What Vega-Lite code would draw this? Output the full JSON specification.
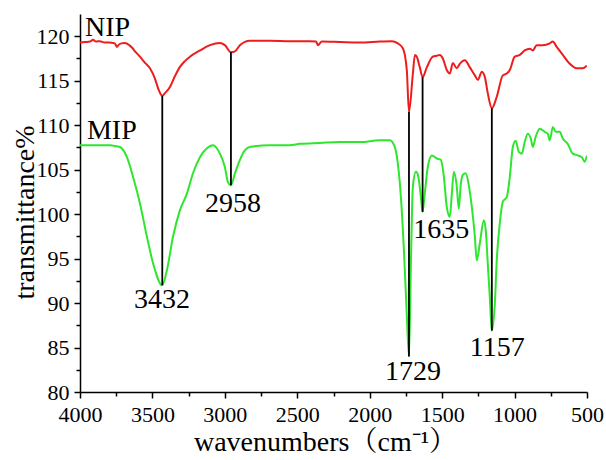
{
  "$schema": "https://vega.github.io/schema/vega-lite/v6.json",
  "width": 507,
  "height": 378,
  "autosize": "none",
  "padding": {"left": 80, "top": 14, "right": 19, "bottom": 68},
  "background": "white",
  "config": {
    "view": {"stroke": null},
    "font": "Liberation Serif",
    "axis": {
      "grid": false,
      "domainColor": "black",
      "domainWidth": 1.5,
      "tickColor": "black",
      "tickWidth": 1.5,
      "labelFont": "Liberation Serif",
      "labelColor": "black",
      "titleFont": "Liberation Serif",
      "titleColor": "black",
      "titleFontWeight": "normal"
    }
  },
  "datasets": {
    "spectra": [
      {"s": "NIP", "wn": 4000, "t": 119.3},
      {"s": "NIP", "wn": 3965, "t": 119.35},
      {"s": "NIP", "wn": 3931, "t": 119.4},
      {"s": "NIP", "wn": 3910, "t": 119.6},
      {"s": "NIP", "wn": 3890, "t": 119.4},
      {"s": "NIP", "wn": 3862, "t": 119.45},
      {"s": "NIP", "wn": 3830, "t": 119.3},
      {"s": "NIP", "wn": 3800, "t": 119.3},
      {"s": "NIP", "wn": 3760, "t": 119.2},
      {"s": "NIP", "wn": 3745, "t": 118.8},
      {"s": "NIP", "wn": 3735, "t": 119.0},
      {"s": "NIP", "wn": 3715, "t": 119.2},
      {"s": "NIP", "wn": 3690, "t": 119.25},
      {"s": "NIP", "wn": 3660, "t": 119.0},
      {"s": "NIP", "wn": 3640, "t": 118.7},
      {"s": "NIP", "wn": 3620, "t": 118.3},
      {"s": "NIP", "wn": 3586, "t": 117.7},
      {"s": "NIP", "wn": 3551, "t": 117.0},
      {"s": "NIP", "wn": 3517, "t": 116.4},
      {"s": "NIP", "wn": 3482, "t": 115.2},
      {"s": "NIP", "wn": 3462, "t": 114.2},
      {"s": "NIP", "wn": 3432, "t": 113.3},
      {"s": "NIP", "wn": 3414, "t": 113.6},
      {"s": "NIP", "wn": 3379, "t": 114.3},
      {"s": "NIP", "wn": 3345, "t": 115.5},
      {"s": "NIP", "wn": 3310, "t": 116.55},
      {"s": "NIP", "wn": 3276, "t": 117.2},
      {"s": "NIP", "wn": 3241, "t": 117.7},
      {"s": "NIP", "wn": 3172, "t": 118.4},
      {"s": "NIP", "wn": 3103, "t": 119.0},
      {"s": "NIP", "wn": 3034, "t": 119.25},
      {"s": "NIP", "wn": 3000, "t": 119.0},
      {"s": "NIP", "wn": 2958, "t": 118.2},
      {"s": "NIP", "wn": 2930, "t": 118.3},
      {"s": "NIP", "wn": 2896, "t": 119.0},
      {"s": "NIP", "wn": 2827, "t": 119.5},
      {"s": "NIP", "wn": 2689, "t": 119.5},
      {"s": "NIP", "wn": 2551, "t": 119.45},
      {"s": "NIP", "wn": 2413, "t": 119.45},
      {"s": "NIP", "wn": 2370, "t": 119.4},
      {"s": "NIP", "wn": 2358, "t": 119.0},
      {"s": "NIP", "wn": 2330, "t": 119.4},
      {"s": "NIP", "wn": 2206, "t": 119.35},
      {"s": "NIP", "wn": 2068, "t": 119.3},
      {"s": "NIP", "wn": 1930, "t": 119.4},
      {"s": "NIP", "wn": 1847, "t": 119.45},
      {"s": "NIP", "wn": 1806, "t": 119.2},
      {"s": "NIP", "wn": 1771, "t": 118.65},
      {"s": "NIP", "wn": 1744, "t": 116.2},
      {"s": "NIP", "wn": 1729, "t": 111.5},
      {"s": "NIP", "wn": 1702, "t": 115.8},
      {"s": "NIP", "wn": 1688, "t": 117.9},
      {"s": "NIP", "wn": 1675, "t": 117.7},
      {"s": "NIP", "wn": 1654, "t": 116.5},
      {"s": "NIP", "wn": 1635, "t": 115.4},
      {"s": "NIP", "wn": 1606, "t": 116.5},
      {"s": "NIP", "wn": 1564, "t": 117.7},
      {"s": "NIP", "wn": 1537, "t": 117.8},
      {"s": "NIP", "wn": 1516, "t": 117.9},
      {"s": "NIP", "wn": 1495, "t": 117.5},
      {"s": "NIP", "wn": 1468, "t": 116.2},
      {"s": "NIP", "wn": 1447, "t": 115.8},
      {"s": "NIP", "wn": 1426, "t": 117.0},
      {"s": "NIP", "wn": 1399, "t": 116.4},
      {"s": "NIP", "wn": 1378, "t": 116.9},
      {"s": "NIP", "wn": 1343, "t": 117.3},
      {"s": "NIP", "wn": 1309, "t": 116.5},
      {"s": "NIP", "wn": 1274, "t": 115.6},
      {"s": "NIP", "wn": 1254, "t": 115.1},
      {"s": "NIP", "wn": 1226, "t": 116.0},
      {"s": "NIP", "wn": 1205, "t": 115.4},
      {"s": "NIP", "wn": 1185, "t": 113.6},
      {"s": "NIP", "wn": 1157, "t": 111.9},
      {"s": "NIP", "wn": 1123, "t": 113.2},
      {"s": "NIP", "wn": 1081, "t": 115.6},
      {"s": "NIP", "wn": 1054, "t": 115.8},
      {"s": "NIP", "wn": 1033, "t": 116.2},
      {"s": "NIP", "wn": 999, "t": 117.7},
      {"s": "NIP", "wn": 964, "t": 117.9},
      {"s": "NIP", "wn": 930, "t": 118.4},
      {"s": "NIP", "wn": 895, "t": 118.6},
      {"s": "NIP", "wn": 874, "t": 118.4},
      {"s": "NIP", "wn": 847, "t": 119.0},
      {"s": "NIP", "wn": 805, "t": 119.0},
      {"s": "NIP", "wn": 757, "t": 119.2},
      {"s": "NIP", "wn": 736, "t": 119.4},
      {"s": "NIP", "wn": 709, "t": 118.8},
      {"s": "NIP", "wn": 667, "t": 117.9},
      {"s": "NIP", "wn": 619, "t": 116.9},
      {"s": "NIP", "wn": 571, "t": 116.4},
      {"s": "NIP", "wn": 529, "t": 116.4},
      {"s": "NIP", "wn": 502, "t": 116.7},
      {"s": "MIP", "wn": 4000, "t": 107.75},
      {"s": "MIP", "wn": 3931, "t": 107.75},
      {"s": "MIP", "wn": 3793, "t": 107.75},
      {"s": "MIP", "wn": 3772, "t": 107.7},
      {"s": "MIP", "wn": 3724, "t": 107.55},
      {"s": "MIP", "wn": 3676, "t": 106.4},
      {"s": "MIP", "wn": 3634, "t": 104.2},
      {"s": "MIP", "wn": 3586, "t": 101.2},
      {"s": "MIP", "wn": 3538, "t": 97.45},
      {"s": "MIP", "wn": 3496, "t": 94.5},
      {"s": "MIP", "wn": 3432, "t": 92.0},
      {"s": "MIP", "wn": 3400, "t": 93.7},
      {"s": "MIP", "wn": 3358, "t": 97.45},
      {"s": "MIP", "wn": 3310, "t": 100.45},
      {"s": "MIP", "wn": 3262, "t": 102.3},
      {"s": "MIP", "wn": 3220, "t": 104.6},
      {"s": "MIP", "wn": 3172, "t": 106.4},
      {"s": "MIP", "wn": 3124, "t": 107.4},
      {"s": "MIP", "wn": 3082, "t": 107.75},
      {"s": "MIP", "wn": 3034, "t": 106.8},
      {"s": "MIP", "wn": 3000, "t": 105.3},
      {"s": "MIP", "wn": 2979, "t": 103.6},
      {"s": "MIP", "wn": 2958, "t": 103.25},
      {"s": "MIP", "wn": 2930, "t": 104.6},
      {"s": "MIP", "wn": 2896, "t": 106.1},
      {"s": "MIP", "wn": 2875, "t": 106.85},
      {"s": "MIP", "wn": 2827, "t": 107.55},
      {"s": "MIP", "wn": 2689, "t": 107.75},
      {"s": "MIP", "wn": 2551, "t": 107.75},
      {"s": "MIP", "wn": 2482, "t": 107.9},
      {"s": "MIP", "wn": 2344, "t": 108.0},
      {"s": "MIP", "wn": 2206, "t": 108.1},
      {"s": "MIP", "wn": 2068, "t": 108.1},
      {"s": "MIP", "wn": 1930, "t": 108.3},
      {"s": "MIP", "wn": 1861, "t": 108.3},
      {"s": "MIP", "wn": 1827, "t": 107.55},
      {"s": "MIP", "wn": 1806, "t": 105.7},
      {"s": "MIP", "wn": 1785, "t": 102.0},
      {"s": "MIP", "wn": 1764, "t": 96.0},
      {"s": "MIP", "wn": 1745, "t": 89.0},
      {"s": "MIP", "wn": 1729, "t": 84.0},
      {"s": "MIP", "wn": 1715, "t": 95.0},
      {"s": "MIP", "wn": 1702, "t": 103.1},
      {"s": "MIP", "wn": 1681, "t": 104.75},
      {"s": "MIP", "wn": 1667, "t": 104.4},
      {"s": "MIP", "wn": 1647, "t": 101.95},
      {"s": "MIP", "wn": 1635, "t": 100.25},
      {"s": "MIP", "wn": 1620, "t": 102.3},
      {"s": "MIP", "wn": 1599, "t": 105.3},
      {"s": "MIP", "wn": 1571, "t": 106.6},
      {"s": "MIP", "wn": 1537, "t": 106.25},
      {"s": "MIP", "wn": 1509, "t": 106.1},
      {"s": "MIP", "wn": 1488, "t": 104.2},
      {"s": "MIP", "wn": 1468, "t": 100.8},
      {"s": "MIP", "wn": 1447, "t": 99.7},
      {"s": "MIP", "wn": 1433, "t": 102.3},
      {"s": "MIP", "wn": 1419, "t": 104.75},
      {"s": "MIP", "wn": 1399, "t": 103.1},
      {"s": "MIP", "wn": 1385, "t": 100.6},
      {"s": "MIP", "wn": 1371, "t": 103.4},
      {"s": "MIP", "wn": 1357, "t": 104.4},
      {"s": "MIP", "wn": 1337, "t": 104.6},
      {"s": "MIP", "wn": 1316, "t": 103.25},
      {"s": "MIP", "wn": 1295, "t": 100.8},
      {"s": "MIP", "wn": 1274, "t": 97.45},
      {"s": "MIP", "wn": 1261, "t": 94.8},
      {"s": "MIP", "wn": 1240, "t": 96.7},
      {"s": "MIP", "wn": 1212, "t": 99.3},
      {"s": "MIP", "wn": 1199, "t": 98.2},
      {"s": "MIP", "wn": 1185, "t": 94.45},
      {"s": "MIP", "wn": 1171, "t": 90.7},
      {"s": "MIP", "wn": 1157, "t": 86.9},
      {"s": "MIP", "wn": 1136, "t": 90.0},
      {"s": "MIP", "wn": 1123, "t": 94.8},
      {"s": "MIP", "wn": 1102, "t": 98.95},
      {"s": "MIP", "wn": 1081, "t": 101.4},
      {"s": "MIP", "wn": 1054, "t": 101.9},
      {"s": "MIP", "wn": 1033, "t": 104.2},
      {"s": "MIP", "wn": 1012, "t": 107.55},
      {"s": "MIP", "wn": 992, "t": 108.25},
      {"s": "MIP", "wn": 971, "t": 107.0},
      {"s": "MIP", "wn": 950, "t": 106.8},
      {"s": "MIP", "wn": 930, "t": 108.1},
      {"s": "MIP", "wn": 909, "t": 109.05},
      {"s": "MIP", "wn": 888, "t": 108.5},
      {"s": "MIP", "wn": 874, "t": 107.55},
      {"s": "MIP", "wn": 854, "t": 108.7},
      {"s": "MIP", "wn": 826, "t": 109.6},
      {"s": "MIP", "wn": 792, "t": 109.25},
      {"s": "MIP", "wn": 771, "t": 109.05},
      {"s": "MIP", "wn": 757, "t": 108.3},
      {"s": "MIP", "wn": 736, "t": 109.8},
      {"s": "MIP", "wn": 716, "t": 109.25},
      {"s": "MIP", "wn": 688, "t": 109.25},
      {"s": "MIP", "wn": 667, "t": 108.5},
      {"s": "MIP", "wn": 633, "t": 107.9},
      {"s": "MIP", "wn": 598, "t": 106.8},
      {"s": "MIP", "wn": 564, "t": 106.6},
      {"s": "MIP", "wn": 536, "t": 106.4},
      {"s": "MIP", "wn": 516, "t": 105.9},
      {"s": "MIP", "wn": 500, "t": 106.6}
    ],
    "peaks": [
      {"wn": 3432, "nip": 113.3, "mip": 92.0, "label": "3432", "lx": 3434, "ly": 90.3},
      {"wn": 2958, "nip": 118.2, "mip": 103.25, "label": "2958", "lx": 2944, "ly": 101.1},
      {"wn": 1729, "nip": 111.5, "mip": 84.0, "label": "1729", "lx": 1702, "ly": 82.2},
      {"wn": 1635, "nip": 115.4, "mip": 100.25, "label": "1635", "lx": 1506, "ly": 98.2},
      {"wn": 1157, "nip": 111.9, "mip": 86.9, "label": "1157", "lx": 1119, "ly": 85.0}
    ],
    "series": [
      {"label": "NIP", "lx": 3965, "ly": 120.96},
      {"label": "MIP", "lx": 3952, "ly": 109.3}
    ]
  },
  "resolve": {"axis": {"x": "independent", "y": "independent"}},
  "layer": [
    {
      "data": {"name": "spectra"},
      "mark": {"type": "line", "strokeWidth": 2, "clip": true, "interpolate": "monotone"},
      "encoding": {
        "x": {
          "field": "wn", "type": "quantitative",
          "scale": {"domain": [4000, 500], "nice": false, "zero": false},
          "axis": {
            "orient": "bottom",
            "values": [4000, 3500, 3000, 2500, 2000, 1500, 1000, 500],
            "format": "d",
            "tickSize": 6,
            "labelPadding": 6,
            "labelFontSize": 22,
            "labelFlush": false,
            "title": "wavenumbers（cm⁻¹）",
            "titleFontSize": 28,
            "titleX": 245,
            "titleY": 58,
            "titleBaseline": "alphabetic",
            "titleFont": "Liberation Serif, Noto Serif CJK SC, Noto Sans CJK SC"
          }
        },
        "y": {
          "field": "t", "type": "quantitative",
          "scale": {"domain": [80, 122.5], "nice": false, "zero": false},
          "axis": {
            "orient": "left",
            "values": [80, 85, 90, 95, 100, 105, 110, 115, 120],
            "tickSize": 6,
            "labelPadding": 5,
            "labelFontSize": 22,
            "labelFlush": false,
            "title": "transmittance%",
            "titleFontSize": 28,
            "titleX": -47,
            "titleY": 198,
            "titleAngle": 270,
            "titleBaseline": "alphabetic"
          }
        },
        "color": {
          "field": "s", "type": "nominal",
          "scale": {"domain": ["NIP", "MIP"], "range": ["#ee1c1c", "#2ee62e"]},
          "legend": null
        }
      }
    },
    {
      "data": {"name": "peaks"},
      "mark": {"type": "point", "opacity": 0},
      "encoding": {
        "x": {
          "field": "wn", "type": "quantitative",
          "axis": {
            "orient": "bottom",
            "values": [3750, 3250, 2750, 2250, 1750, 1250, 750],
            "labels": false,
            "domain": false,
            "tickSize": 4,
            "title": null
          }
        },
        "y": {
          "field": "mip", "type": "quantitative",
          "axis": {
            "orient": "left",
            "values": [82.5, 87.5, 92.5, 97.5, 102.5, 107.5, 112.5, 117.5],
            "labels": false,
            "domain": false,
            "tickSize": 4,
            "title": null
          }
        }
      }
    },
    {
      "data": {"name": "peaks"},
      "mark": {"type": "rule", "color": "black", "strokeWidth": 1.8},
      "encoding": {
        "x": {"field": "wn", "type": "quantitative", "axis": null},
        "y": {"field": "mip", "type": "quantitative", "axis": null},
        "y2": {"field": "nip"}
      }
    },
    {
      "data": {"name": "peaks"},
      "mark": {"type": "text", "font": "Liberation Serif", "fontSize": 28, "align": "center", "baseline": "middle", "color": "black"},
      "encoding": {
        "x": {"field": "lx", "type": "quantitative", "axis": null},
        "y": {"field": "ly", "type": "quantitative", "axis": null},
        "text": {"field": "label"}
      }
    },
    {
      "data": {"name": "series"},
      "mark": {"type": "text", "font": "Liberation Serif", "fontSize": 28, "align": "left", "baseline": "middle", "color": "black"},
      "encoding": {
        "x": {"field": "lx", "type": "quantitative", "axis": null},
        "y": {"field": "ly", "type": "quantitative", "axis": null},
        "text": {"field": "label"}
      }
    }
  ]
}
